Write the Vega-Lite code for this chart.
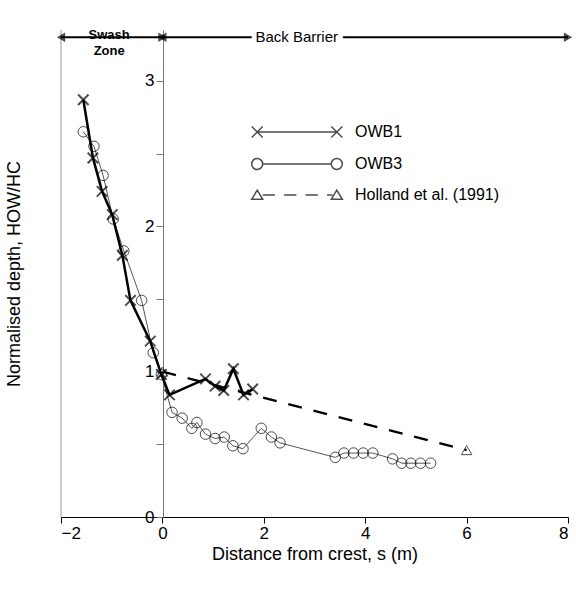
{
  "$schema": "https://vega.github.io/schema/vega-lite/v6.json",
  "width": 507,
  "height": 487,
  "autosize": "none",
  "padding": {"left": 61, "top": 30, "right": 8, "bottom": 82},
  "background": "white",
  "config": {"view": {"stroke": null}, "font": "Liberation Sans"},
  "resolve": {"scale": {"shape": "independent"}},
  "datasets": {
    "pts": [
      {"series": "OWB1", "s": -1.56, "h": 2.87},
      {"series": "OWB1", "s": -1.37, "h": 2.47},
      {"series": "OWB1", "s": -1.19, "h": 2.24},
      {"series": "OWB1", "s": -0.99, "h": 2.08},
      {"series": "OWB1", "s": -0.79, "h": 1.8},
      {"series": "OWB1", "s": -0.63, "h": 1.49},
      {"series": "OWB1", "s": -0.24, "h": 1.21},
      {"series": "OWB1", "s": -0.02, "h": 0.98},
      {"series": "OWB1", "s": 0.14, "h": 0.84},
      {"series": "OWB1", "s": 0.85, "h": 0.95},
      {"series": "OWB1", "s": 1.04, "h": 0.9},
      {"series": "OWB1", "s": 1.21, "h": 0.87},
      {"series": "OWB1", "s": 1.4, "h": 1.02},
      {"series": "OWB1", "s": 1.6, "h": 0.84},
      {"series": "OWB1", "s": 1.78, "h": 0.88},
      {"series": "OWB3", "s": -1.56, "h": 2.65},
      {"series": "OWB3", "s": -1.35, "h": 2.55},
      {"series": "OWB3", "s": -1.17, "h": 2.35},
      {"series": "OWB3", "s": -0.97, "h": 2.05},
      {"series": "OWB3", "s": -0.76, "h": 1.83},
      {"series": "OWB3", "s": -0.41, "h": 1.49},
      {"series": "OWB3", "s": -0.18, "h": 1.13},
      {"series": "OWB3", "s": -0.02, "h": 0.98},
      {"series": "OWB3", "s": 0.19, "h": 0.72},
      {"series": "OWB3", "s": 0.39, "h": 0.68},
      {"series": "OWB3", "s": 0.58, "h": 0.61},
      {"series": "OWB3", "s": 0.68, "h": 0.65},
      {"series": "OWB3", "s": 0.85, "h": 0.57},
      {"series": "OWB3", "s": 1.04, "h": 0.54},
      {"series": "OWB3", "s": 1.22, "h": 0.55},
      {"series": "OWB3", "s": 1.39, "h": 0.49},
      {"series": "OWB3", "s": 1.59, "h": 0.47},
      {"series": "OWB3", "s": 1.95, "h": 0.61},
      {"series": "OWB3", "s": 2.15, "h": 0.55},
      {"series": "OWB3", "s": 2.32, "h": 0.51},
      {"series": "OWB3", "s": 3.41, "h": 0.41},
      {"series": "OWB3", "s": 3.58, "h": 0.44},
      {"series": "OWB3", "s": 3.77, "h": 0.44},
      {"series": "OWB3", "s": 3.96, "h": 0.44},
      {"series": "OWB3", "s": 4.15, "h": 0.44},
      {"series": "OWB3", "s": 4.54, "h": 0.4},
      {"series": "OWB3", "s": 4.72, "h": 0.37},
      {"series": "OWB3", "s": 4.9, "h": 0.37},
      {"series": "OWB3", "s": 5.09, "h": 0.37},
      {"series": "OWB3", "s": 5.29, "h": 0.37},
      {"series": "Holland et al. (1991)", "s": 0, "h": 1.0},
      {"series": "Holland et al. (1991)", "s": 6, "h": 0.46}
    ],
    "zones": [
      {"zone": "Swash\nZone", "s0": -2, "s1": 0, "mid": -1.05},
      {"zone": "Back Barrier", "s0": 0, "s1": 8, "mid": 2.65}
    ]
  },
  "layer": [
    {
      "data": {"values": [{"s": -2}]},
      "mark": {"type": "rule", "color": "#999999", "strokeWidth": 1},
      "encoding": {"x": {"field": "s", "type": "quantitative", "scale": {"domain": [-2, 8]}}}
    },
    {
      "data": {"name": "pts"},
      "transform": [{"filter": "datum.series === 'OWB3'"}],
      "mark": {"type": "line", "color": "#555555", "strokeWidth": 1},
      "encoding": {
        "x": {"field": "s", "type": "quantitative", "scale": {"domain": [-2, 8]},
          "axis": {"values": [-2, 0, 2, 4, 6, 8], "title": "Distance from crest, s (m)", "titleFontSize": 18, "titleFontWeight": "normal", "titleColor": "black", "labelFontSize": 17, "labelColor": "black", "domainColor": "black", "tickColor": "black", "tickSize": 6, "grid": false, "titlePadding": 4}},
        "y": {"field": "h", "type": "quantitative", "scale": {"domain": [0, 3.35], "nice": false},
          "axis": {"values": [0, 0.5, 1, 1.5, 2, 2.5, 3], "labelExpr": "datum.value % 1 === 0 ? format(datum.value, 'd') : ''", "offset": -102, "grid": false, "title": "Normalised depth, HOW/HC", "titleX": -140, "titleFontSize": 18, "titleFontWeight": "normal", "titleColor": "black", "labelFontSize": 17, "labelColor": "black", "domainColor": "#777777", "tickColor": "#777777", "tickSize": 7}}
      }
    },
    {
      "data": {"name": "pts"},
      "transform": [{"filter": "datum.series === 'Holland et al. (1991)'"}],
      "mark": {"type": "line", "color": "black", "strokeWidth": 2.5, "strokeDash": [14, 12]},
      "encoding": {"x": {"field": "s", "type": "quantitative"}, "y": {"field": "h", "type": "quantitative"}}
    },
    {
      "data": {"name": "pts"},
      "transform": [{"filter": "datum.series === 'OWB1'"}],
      "mark": {"type": "line", "color": "black", "strokeWidth": 2.5},
      "encoding": {"x": {"field": "s", "type": "quantitative"}, "y": {"field": "h", "type": "quantitative"}}
    },
    {
      "data": {"name": "pts"},
      "mark": {"type": "point", "filled": false, "size": 110, "strokeWidth": 1, "color": "black"},
      "encoding": {
        "x": {"field": "s", "type": "quantitative"},
        "y": {"field": "h", "type": "quantitative"},
        "shape": {"field": "series", "type": "nominal", "legend": null,
          "scale": {"domain": ["OWB1", "OWB3", "Holland et al. (1991)"], "range": ["M-1,-1L1,1M-1,1L1,-1", "circle", "triangle-up"]}},
        "strokeWidth": {"condition": {"test": "datum.series === 'OWB1'", "value": 2}, "value": 1}
      }
    },
    {
      "data": {"name": "pts"},
      "transform": [{"filter": "false"}],
      "mark": {"type": "point", "filled": false, "color": "black"},
      "encoding": {
        "x": {"field": "s", "type": "quantitative"},
        "y": {"field": "h", "type": "quantitative"},
        "shape": {"field": "series", "type": "nominal",
          "scale": {"domain": ["OWB1", "OWB3", "Holland et al. (1991)"], "range": [
            "M-6.5,0L6.5,0M-7.4,-0.9L-5.6,0.9M-7.4,0.9L-5.6,-0.9M5.6,-0.9L7.4,0.9M5.6,0.9L7.4,-0.9",
            "M-5.6,0L5.6,0M-7.4,0A0.9,0.9 0 1,1 -5.6,0A0.9,0.9 0 1,1 -7.4,0M5.6,0A0.9,0.9 0 1,1 7.4,0A0.9,0.9 0 1,1 5.6,0",
            "M-5.6,0L-3.6,0M-2.1,0L-0.1,0M1.4,0L3.4,0M4.9,0L5.8,0M-7.4,0.7L-6.5,-0.8L-5.6,0.7ZM5.6,0.7L6.5,-0.8L7.4,0.7Z"]},
          "legend": {"orient": "none", "legendX": 228, "legendY": 94, "title": null, "labelFontSize": 16, "labelColor": "black", "symbolSize": 150, "symbolStrokeColor": "black", "symbolStrokeWidth": 1.5, "symbolFillColor": "white", "rowPadding": 14, "labelOffset": 50}}
      }
    },
    {
      "data": {"name": "zones"},
      "mark": {"type": "rule", "color": "black", "strokeWidth": 2},
      "encoding": {"x": {"field": "s0", "type": "quantitative"}, "x2": {"field": "s1"}, "y": {"datum": 3.3, "type": "quantitative"}}
    },
    {
      "data": {"name": "zones"},
      "mark": {"type": "point", "shape": "triangle-left", "filled": true, "color": "black", "size": 90},
      "encoding": {"x": {"field": "s0", "type": "quantitative"}, "y": {"datum": 3.3, "type": "quantitative"}}
    },
    {
      "data": {"name": "zones"},
      "mark": {"type": "point", "shape": "triangle-right", "filled": true, "color": "black", "size": 90},
      "encoding": {"x": {"field": "s1", "type": "quantitative"}, "y": {"datum": 3.3, "type": "quantitative"}}
    },
    {
      "data": {"name": "zones"},
      "transform": [{"filter": "datum.s0 === 0"}],
      "mark": {"type": "text", "fontSize": 15, "fill": "white", "stroke": "white", "strokeWidth": 10},
      "encoding": {"x": {"field": "mid", "type": "quantitative"}, "y": {"datum": 3.3, "type": "quantitative"}, "text": {"field": "zone"}}
    },
    {
      "data": {"name": "zones"},
      "transform": [{"filter": "datum.s0 === 0"}],
      "mark": {"type": "text", "fontSize": 15, "color": "black"},
      "encoding": {"x": {"field": "mid", "type": "quantitative"}, "y": {"datum": 3.3, "type": "quantitative"}, "text": {"field": "zone"}}
    },
    {
      "data": {"name": "zones"},
      "transform": [{"filter": "datum.s0 === -2"}, {"calculate": "split(datum.zone, '\\n')", "as": "lines"}],
      "mark": {"type": "text", "fontSize": 13, "fontWeight": "bold", "color": "black", "baseline": "top", "dy": -8, "lineHeight": 16},
      "encoding": {"x": {"field": "mid", "type": "quantitative"}, "y": {"datum": 3.3, "type": "quantitative"}, "text": {"field": "lines"}}
    }
  ]
}
